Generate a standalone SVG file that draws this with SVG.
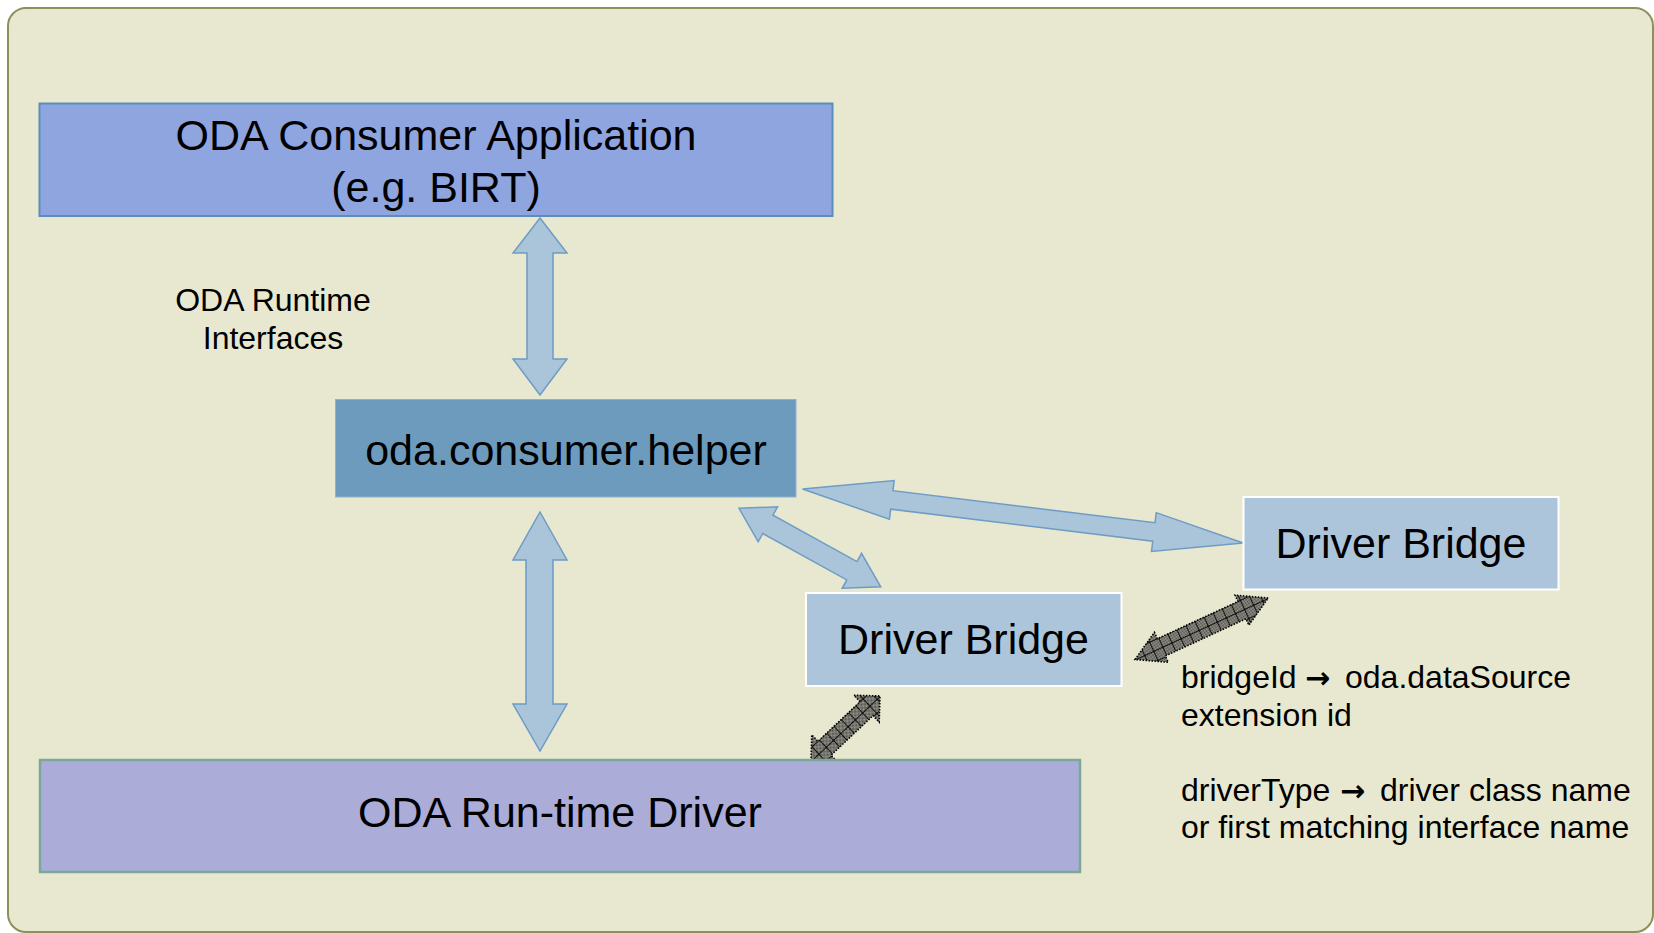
<svg xmlns="http://www.w3.org/2000/svg" width="1654" height="933" viewBox="0 0 1654 933">
<style>
text{font-family:"Liberation Sans",Arial,sans-serif;fill:#000}
.big{font-size:43px;text-anchor:middle}
.small{font-size:32px}
.arr{font-family:"DejaVu Sans",sans-serif;font-weight:bold;font-size:30px}
.blk{fill:#AAC4D9;stroke:#6E9CC4;stroke-width:1.5;stroke-linejoin:miter}
.hatch{fill:url(#hatch);stroke:#000;stroke-width:1.6;stroke-dasharray:1.5 1.5}
</style>
<defs>
<pattern id="dither" width="2" height="2" patternUnits="userSpaceOnUse">
<rect width="2" height="2" fill="#9c9c94"/>
<rect width="1" height="1" fill="#505049"/>
<rect x="1" y="1" width="1" height="1" fill="#505049"/>
</pattern>
<pattern id="hatch" width="10" height="10" patternUnits="userSpaceOnUse">
<rect width="10" height="10" fill="url(#dither)"/>
<path d="M0 0.5H10M0.5 0V10" stroke="#111" stroke-width="1"/>
</pattern>
</defs>
<rect width="1654" height="933" fill="#fff"/>
<rect id="panel" x="8" y="8" width="1645" height="924" rx="18" fill="#E8E8D0" stroke="#8F8F5C" stroke-width="2"/>

<g id="connectors">
<polygon class="blk" points="540,218 567,253 553,253 553,359 567,359 540,395 513,359 527,359 527,253 513,253"/>
<polygon class="blk" points="540,512 567,560 553,560 553,704 567,704 540,751 513,704 526,704 526,560 513,560"/>
<polygon class="blk" transform="translate(802.5,489) rotate(6.98)" points="0,0 90,-19.5 90,-9.3 354,-9.3 354,-19.5 444,0 354,19.5 354,9.3 90,9.3 90,19.5"/>
<polygon class="blk" transform="translate(739,508.3) rotate(28.97)" points="0,0 33,-20 33,-10.5 129,-10.5 129,-20 162,0 129,20 129,10.5 33,10.5 33,20"/>
<polygon class="hatch" transform="translate(811,761) rotate(-43.3)" points="0,0 18.5,-18.5 18.5,-9.5 76.3,-9.5 76.3,-18.5 94.8,0 76.3,18.5 76.3,9.5 18.5,9.5 18.5,18.5"/>
<polygon class="hatch" transform="translate(1135,659.5) rotate(-24.77)" points="0,0 29,-16.5 29,-9.5 117.8,-9.5 117.8,-16.5 146.8,0 117.8,16.5 117.8,9.5 29,9.5 29,16.5"/>
</g>

<g id="consumer">
<rect x="39.5" y="103.5" width="793" height="112.5" fill="#8FA5E0" stroke="#5B8DBA" stroke-width="2"/>
<text class="big" x="436" y="150">ODA Consumer Application</text>
<text class="big" x="436" y="202">(e.g. BIRT)</text>
</g>

<g id="runtime-label">
<text class="small" x="273" y="311" text-anchor="middle">ODA Runtime</text>
<text class="small" x="273" y="349" text-anchor="middle">Interfaces</text>
</g>

<g id="helper">
<rect x="335.5" y="399.5" width="460.5" height="97.5" fill="#6C9BBD" stroke="#8DB2CF" stroke-width="1"/>
<text class="big" x="566" y="465">oda.consumer.helper</text>
</g>

<g id="bridge1">
<rect x="806" y="593" width="315.5" height="93" fill="#ADC5DB" stroke="#FFFFFF" stroke-width="2"/>
<text class="big" x="963.5" y="654">Driver Bridge</text>
</g>

<g id="bridge2">
<rect x="1243.5" y="497" width="315" height="92.5" fill="#ADC5DB" stroke="#FFFFFF" stroke-width="2"/>
<text class="big" x="1401" y="558">Driver Bridge</text>
</g>

<g id="driver">
<rect x="40" y="760" width="1040" height="112" fill="#ABADD8" stroke="#7BA897" stroke-width="2.5"/>
<text class="big" x="560" y="827">ODA Run-time Driver</text>
</g>

<g id="notes">
<text class="small" y="688"><tspan x="1181">bridgeId</tspan><tspan class="arr" x="1305">→</tspan><tspan x="1345">oda.dataSource</tspan></text>
<text class="small" x="1181" y="726">extension id</text>
<text class="small" y="801"><tspan x="1181">driverType</tspan><tspan class="arr" x="1340">→</tspan><tspan x="1380">driver class name</tspan></text>
<text class="small" x="1181" y="838">or first matching interface name</text>
</g>
</svg>
